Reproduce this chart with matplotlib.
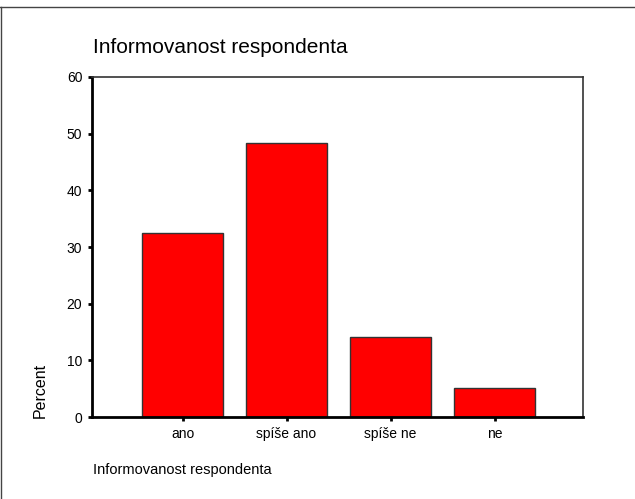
import matplotlib
matplotlib.use("Agg")
import matplotlib.pyplot as plt
from matplotlib.lines import Line2D

categories = ["ano", "spíše ano", "spíše ne", "ne"]
percent = [32.5, 48.3, 14.1, 5.1]
y_ticks = [0, 10, 20, 30, 40, 50, 60]

plt.rcParams["font.family"] = ["Liberation Sans", "DejaVu Sans"]

fig = plt.figure(figsize=(6.35, 4.99), dpi=100)
ax = fig.add_axes([0.1449, 0.1643, 0.7732, 0.6814])

x = list(range(len(categories)))
ax.bar(x, percent, width=0.775, color="#ff0000", edgecolor="#333333", linewidth=1.0)

ax.set_xlim(-0.87, 3.85)
ax.set_ylim(0, 60)
ax.set_yticks(y_ticks)
ax.set_xticks(x)
ax.set_xticklabels(categories)
ax.tick_params(axis="both", direction="out", length=3, width=2, color="black",
               labelsize=10, pad=4)

ax.spines["left"].set_linewidth(2)
ax.spines["bottom"].set_linewidth(2)
ax.spines["top"].set_linewidth(1.2)
ax.spines["right"].set_linewidth(1.2)
ax.spines["top"].set_color("#333333")
ax.spines["right"].set_color("#333333")

fig.text(0.146, 0.904, "Informovanost respondenta", fontsize=15, ha="left", va="center")
fig.text(0.146, 0.058, "Informovanost respondenta", fontsize=10.5, ha="left", va="center")
fig.text(0.063, 0.162, "Percent", fontsize=11.5, rotation=90, ha="center", va="bottom")

# outer frame (top and left edges only)
fig.add_artist(Line2D([0, 1], [0.986, 0.986], transform=fig.transFigure, color="#444444", linewidth=1))
fig.add_artist(Line2D([0.002, 0.002], [0, 0.986], transform=fig.transFigure, color="#444444", linewidth=1))

fig.savefig("out.png", dpi=100)
